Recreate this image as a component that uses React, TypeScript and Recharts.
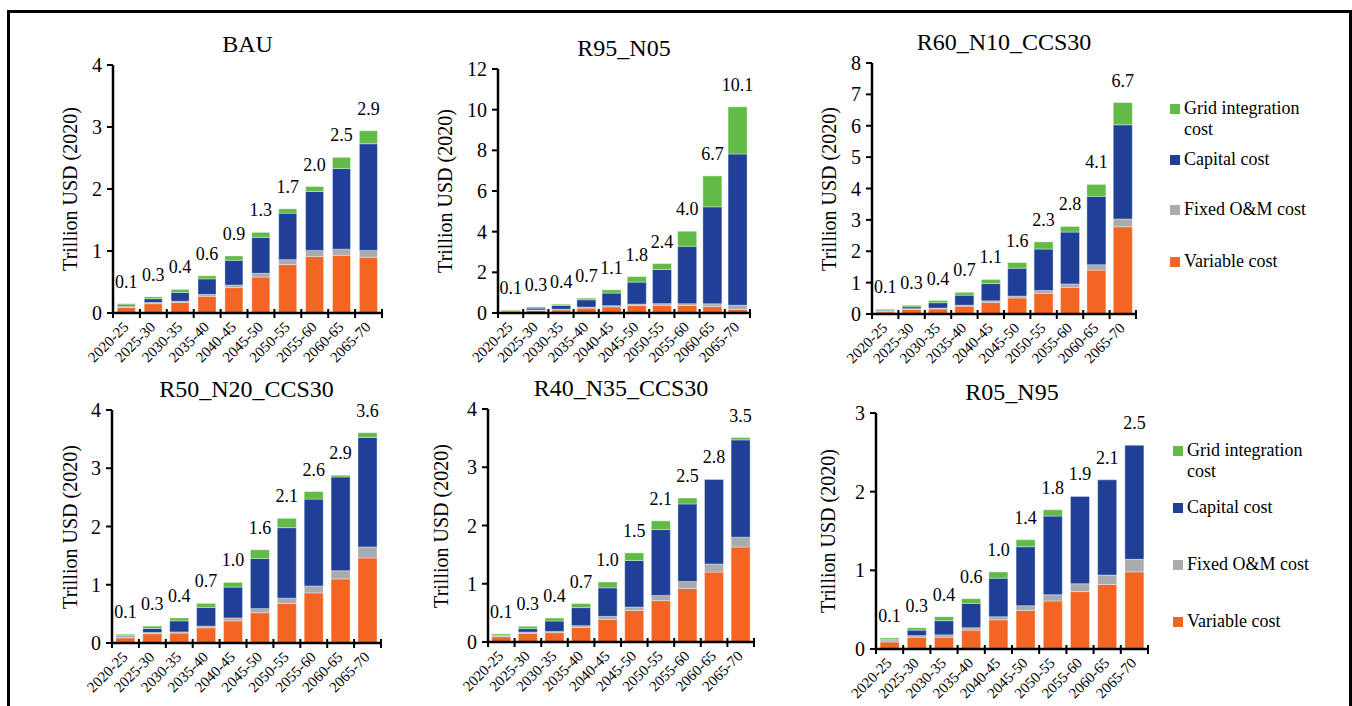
import React from "react"
import { BarChart, Bar, XAxis, YAxis, LabelList } from "recharts"

const FONT = '"Liberation Serif", "Times New Roman", serif'

const PERIODS = ["2020-25", "2025-30", "2030-35", "2035-40", "2040-45", "2045-50", "2050-55", "2055-60", "2060-65", "2065-70"]

// BAU
const BAU_VARIABLE = [0.09, 0.15, 0.17, 0.27, 0.41, 0.58, 0.78, 0.91, 0.93, 0.9]
const BAU_FIXED = [0.02, 0.02, 0.02, 0.03, 0.04, 0.06, 0.08, 0.1, 0.1, 0.11]
const BAU_CAPITAL = [0.02, 0.06, 0.14, 0.25, 0.4, 0.58, 0.75, 0.95, 1.3, 1.72]
const BAU_GRID = [0.02, 0.03, 0.05, 0.05, 0.07, 0.08, 0.07, 0.08, 0.18, 0.21]
const BAU_TOTAL = [0.1, 0.3, 0.4, 0.6, 0.9, 1.3, 1.7, 2.0, 2.5, 2.9]
const BAU_TICKS = [0, 1, 2, 3, 4]

// R95_N05
const R95_VARIABLE = [0.05, 0.12, 0.15, 0.24, 0.3, 0.37, 0.38, 0.37, 0.32, 0.18]
const R95_FIXED = [0.02, 0.03, 0.04, 0.05, 0.06, 0.07, 0.08, 0.09, 0.13, 0.2]
const R95_CAPITAL = [0.04, 0.09, 0.18, 0.36, 0.62, 1.08, 1.68, 2.82, 4.77, 7.44]
const R95_GRID = [0.04, 0.06, 0.06, 0.08, 0.16, 0.27, 0.29, 0.74, 1.52, 2.32]
const R95_TOTAL = [0.1, 0.3, 0.4, 0.7, 1.1, 1.8, 2.4, 4.0, 6.7, 10.1]
const R95_TICKS = [0, 2, 4, 6, 8, 10, 12]

// R60_N10_CCS30
const R60_VARIABLE = [0.07, 0.15, 0.16, 0.25, 0.37, 0.51, 0.66, 0.85, 1.4, 2.78]
const R60_FIXED = [0.02, 0.02, 0.03, 0.03, 0.05, 0.06, 0.09, 0.11, 0.17, 0.25]
const R60_CAPITAL = [0.03, 0.06, 0.17, 0.32, 0.55, 0.89, 1.32, 1.65, 2.18, 3.0]
const R60_GRID = [0.03, 0.05, 0.07, 0.09, 0.13, 0.18, 0.23, 0.18, 0.38, 0.71]
const R60_TOTAL = [0.1, 0.3, 0.4, 0.7, 1.1, 1.6, 2.3, 2.8, 4.1, 6.7]
const R60_TICKS = [0, 1, 2, 3, 4, 5, 6, 7, 8]

// R50_N20_CCS30
const R50_VARIABLE = [0.09, 0.16, 0.17, 0.26, 0.38, 0.52, 0.68, 0.86, 1.1, 1.46]
const R50_FIXED = [0.02, 0.02, 0.02, 0.03, 0.05, 0.07, 0.09, 0.12, 0.14, 0.19]
const R50_CAPITAL = [0.02, 0.07, 0.19, 0.32, 0.53, 0.86, 1.21, 1.49, 1.61, 1.88]
const R50_GRID = [0.02, 0.04, 0.05, 0.07, 0.08, 0.15, 0.16, 0.13, 0.03, 0.08]
const R50_TOTAL = [0.1, 0.3, 0.4, 0.7, 1.0, 1.6, 2.1, 2.6, 2.9, 3.6]
const R50_TICKS = [0, 1, 2, 3, 4]

// R40_N35_CCS30
const R40_VARIABLE = [0.09, 0.15, 0.16, 0.25, 0.39, 0.54, 0.71, 0.92, 1.2, 1.63]
const R40_FIXED = [0.02, 0.02, 0.02, 0.03, 0.05, 0.06, 0.09, 0.12, 0.14, 0.17]
const R40_CAPITAL = [0.01, 0.06, 0.18, 0.31, 0.49, 0.8, 1.13, 1.33, 1.45, 1.67]
const R40_GRID = [0.02, 0.04, 0.05, 0.07, 0.1, 0.13, 0.15, 0.1, -0.01, 0.04]
const R40_TOTAL = [0.1, 0.3, 0.4, 0.7, 1.0, 1.5, 2.1, 2.5, 2.8, 3.5]
const R40_TICKS = [0, 1, 2, 3, 4]

// R05_N95
const R05_VARIABLE = [0.09, 0.15, 0.15, 0.24, 0.37, 0.49, 0.61, 0.73, 0.82, 0.98]
const R05_FIXED = [0.02, 0.02, 0.03, 0.03, 0.04, 0.06, 0.08, 0.1, 0.12, 0.16]
const R05_CAPITAL = [0.01, 0.07, 0.18, 0.31, 0.49, 0.75, 1.0, 1.11, 1.21, 1.45]
const R05_GRID = [0.02, 0.03, 0.05, 0.06, 0.08, 0.09, 0.08, -0.01, -0.01, -0.01]
const R05_TOTAL = [0.1, 0.3, 0.4, 0.6, 1.0, 1.4, 1.8, 1.9, 2.1, 2.5]
const R05_TICKS = [0, 1, 2, 3]

const SERIES = [
  { key: "variable", name: "Variable cost", color: "#F26522" },
  { key: "fixed", name: "Fixed O&M cost", color: "#A9ABAE" },
  { key: "capital", name: "Capital cost", color: "#1F4096" },
  { key: "grid", name: "Grid integration cost", color: "#62BB46" }
]

// layout: plot rectangle of each panel on the page
const PANELS = [
  { title: "BAU", v: BAU_VARIABLE, f: BAU_FIXED, c: BAU_CAPITAL, g: BAU_GRID, total: BAU_TOTAL, ticks: BAU_TICKS,
    left: 113, top: 65, right: 382, bottom: 313, yLabelX: 70, gap: "16%" },
  { title: "R95_N05", v: R95_VARIABLE, f: R95_FIXED, c: R95_CAPITAL, g: R95_GRID, total: R95_TOTAL, ticks: R95_TICKS,
    left: 498, top: 69, right: 750, bottom: 313, yLabelX: 445, gap: "13%" },
  { title: "R60_N10_CCS30", v: R60_VARIABLE, f: R60_FIXED, c: R60_CAPITAL, g: R60_GRID, total: R60_TOTAL, ticks: R60_TICKS,
    left: 872, top: 63, right: 1136, bottom: 314, yLabelX: 829, gap: "14%" },
  { title: "R50_N20_CCS30", v: R50_VARIABLE, f: R50_FIXED, c: R50_CAPITAL, g: R50_GRID, total: R50_TOTAL, ticks: R50_TICKS,
    left: 112, top: 410, right: 381, bottom: 643, yLabelX: 70, gap: "14.5%" },
  { title: "R40_N35_CCS30", v: R40_VARIABLE, f: R40_FIXED, c: R40_CAPITAL, g: R40_GRID, total: R40_TOTAL, ticks: R40_TICKS,
    left: 488, top: 409, right: 754, bottom: 642, yLabelX: 441, gap: "14%" },
  { title: "R05_N95", v: R05_VARIABLE, f: R05_FIXED, c: R05_CAPITAL, g: R05_GRID, total: R05_TOTAL, ticks: R05_TICKS,
    left: 876, top: 413, right: 1148, bottom: 649, yLabelX: 828, gap: "15%" }
]

const LEGENDS = [
  { boxLeft: 1170, textLeft: 1184, centers: [108.5, 159.5, 210, 261.5] },
  { boxLeft: 1173, textLeft: 1187, centers: [451, 508, 564.5, 621.5] }
]

const YW = 60
const TM = 10
const RM = 4
const XH = 70
const AXIS = { stroke: "#000", strokeWidth: 2.5 }

const fmtTotal = (v: any) => (v === null || v === undefined ? "" : Number(v).toFixed(1))

function PeriodTick(props: any) {
  const { x, y, payload, index, step, count } = props
  const tx = x + 3
  const ty = y + 15
  return (
    <g>
      <line x1={x - step / 2} x2={x - step / 2} y1={y - 4} y2={y + 5} stroke="#000" strokeWidth={2} />
      {index === count - 1 && (
        <line x1={x + step / 2} x2={x + step / 2} y1={y - 4} y2={y + 5} stroke="#000" strokeWidth={2} />
      )}
      <text x={tx} y={ty} transform={`rotate(-45, ${tx}, ${ty})`} textAnchor="end" fontSize={15} fill="#000" fontFamily={FONT}>
        {payload.value}
      </text>
    </g>
  )
}

function Panel({ p }: { p: any }) {
  const w = p.right - p.left
  const h = p.bottom - p.top
  const step = w / PERIODS.length
  // the total sits on the green segment, or on the blue one when grid cost is negative
  const rows = PERIODS.map((period, i) => ({
    period,
    variable: p.v[i],
    fixed: p.f[i],
    capital: p.c[i],
    grid: p.g[i],
    totalOnGrid: p.g[i] >= 0 ? p.total[i] : null,
    totalOnCapital: p.g[i] < 0 ? p.total[i] : null
  }))
  const yMax = p.ticks[p.ticks.length - 1]
  const labelProps = { position: "top" as const, offset: 16, formatter: fmtTotal, fontSize: 18, fill: "#000", fontFamily: FONT }

  return (
    <>
      <div
        style={{
          position: "absolute", left: (p.left + p.right) / 2 - 150, top: p.top - 33, width: 300,
          textAlign: "center", fontSize: 24, lineHeight: "24px"
        }}
      >
        {p.title}
      </div>
      <div
        style={{
          position: "absolute", left: p.yLabelX - 150, top: (p.top + p.bottom) / 2 - 12, width: 300, height: 24,
          textAlign: "center", fontSize: 20, lineHeight: "24px", whiteSpace: "nowrap", transform: "rotate(-90deg)"
        }}
      >
        Trillion USD (2020)
      </div>
      <div style={{ position: "absolute", left: p.left - YW, top: p.top - TM }}>
        <BarChart
          width={w + YW + RM}
          height={h + TM + XH}
          data={rows}
          margin={{ top: TM, right: RM, left: 0, bottom: 0 }}
          stackOffset="sign"
          barCategoryGap={p.gap}
        >
          <XAxis
            dataKey="period"
            interval={0}
            height={XH}
            tickSize={0}
            tickMargin={0}
            tickLine={false}
            axisLine={AXIS}
            tick={<PeriodTick step={step} count={PERIODS.length} />}
          />
          <XAxis xAxisId="top" orientation="top" dataKey="period" height={0} tick={false} tickLine={false} axisLine={AXIS} />
          <YAxis
            width={YW}
            domain={[0, yMax]}
            ticks={p.ticks}
            interval={0}
            allowDataOverflow
            tickSize={6}
            tickMargin={5}
            axisLine={AXIS}
            tickLine={{ stroke: "#000", strokeWidth: 2 }}
            tick={{ fontSize: 20, fill: "#000", fontFamily: FONT }}
          />
          <YAxis yAxisId="right" orientation="right" width={0} domain={[0, 1]} tick={false} tickLine={false} axisLine={AXIS} />
          {SERIES.map(s => (
            <Bar
              key={s.key}
              dataKey={s.key}
              name={s.name}
              stackId="cost"
              fill={s.color}
              stroke="#ffffff"
              strokeOpacity={0.6}
              strokeWidth={0.6}
              isAnimationActive={false}
            >
              {s.key === "capital" && <LabelList dataKey="totalOnCapital" {...labelProps} />}
              {s.key === "grid" && <LabelList dataKey="totalOnGrid" {...labelProps} />}
            </Bar>
          ))}
        </BarChart>
      </div>
    </>
  )
}

function CostLegend({ l }: { l: any }) {
  const items = [...SERIES].reverse()
  return (
    <>
      {items.map((s, i) => (
        <React.Fragment key={s.key}>
          <div
            style={{
              position: "absolute", left: l.boxLeft, top: l.centers[i] - 5, width: 10, height: 10, background: s.color
            }}
          />
          <div
            style={{
              position: "absolute", left: l.textLeft, top: l.centers[i] - 11, width: 135,
              fontSize: 18, lineHeight: "21px"
            }}
          >
            {s.name}
          </div>
        </React.Fragment>
      ))}
    </>
  )
}

export default function App() {
  return (
    <div
      style={{
        position: "absolute", left: 0, top: 0, width: 1352, height: 706, overflow: "hidden",
        background: "#fff", fontFamily: FONT, color: "#000"
      }}
    >
      <div
        style={{
          position: "absolute", left: 7, top: 10, width: 1345, height: 696, boxSizing: "border-box",
          borderTop: "3px solid #000", borderLeft: "3px solid #000", borderRight: "3px solid #000"
        }}
      />
      {PANELS.map(p => (
        <Panel key={p.title} p={p} />
      ))}
      {LEGENDS.map((l, i) => (
        <CostLegend key={i} l={l} />
      ))}
    </div>
  )
}
